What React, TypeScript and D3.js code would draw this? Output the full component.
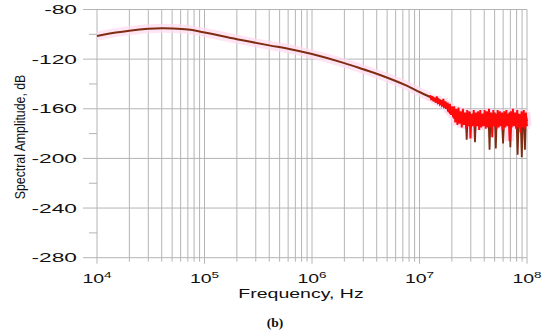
import React from "react";
import * as d3 from "d3";

// smooth part of the spectrum, shared by both traces
const freqs = [1e4, 1.5e4, 2e4, 3e4, 4e4, 5e4, 7e4, 1e5, 2e5, 4e5, 6e5, 1e6, 2e6, 3e6, 4.3e6, 7.6e6, 1e7, 1.26e7];
const smoothDb = [-101.4, -98.6, -97.1, -95.6, -95.1, -95.3, -96.2, -98.5, -103.9, -108.9, -111.6, -115.9, -123.2, -128.2, -132.8, -141.4, -146.5, -150.5];

// noisy tail, samples spread evenly (in log f) between tailStart and tailEnd
const tailStart = 1.26e7;
const tailEnd = 1e8;
const redTail = [
  -149, -153, -150, -154, -151, -155, -150, -156, -152, -157, -153, -158, -152, -159, -154, -160, -155, -163, -156, -165, -158, -167,
  -158, -171, -160, -173, -159, -172, -162, -175, -160, -173, -163, -176, -161, -174, -162, -184, -164, -174, -161, -175, -163, -174,
  -162, -177, -161, -175, -164, -174, -161, -176, -162, -175, -160, -175, -163, -183, -161, -174, -164, -176, -161, -175, -162, -174,
  -163, -177, -162, -175, -161, -174, -164, -186, -162, -175, -160, -174, -163, -176, -161, -175, -164, -179, -162, -175, -161, -176,
  -163, -174,
];
const brownTail = [
  -150, -152, -151, -153, -152, -154, -153, -155, -153, -156, -154, -157, -155, -158, -156, -160, -157, -162, -158, -164, -160, -163,
  -162, -168, -164, -170, -163, -167, -165, -171, -163, -169, -166, -172, -164, -185, -165, -170, -163, -168, -166, -172, -164, -187,
  -165, -170, -163, -169, -166, -173, -164, -171, -165, -170, -163, -172, -166, -193, -164, -170, -165, -172, -163, -192, -166, -171,
  -164, -169, -165, -172, -188, -170, -164, -171, -166, -173, -163, -191, -165, -170, -164, -172, -166, -171, -197, -170, -165, -172,
  -199, -168, -164, -193, -166, -170,
];

const yTicks = [-80, -120, -160, -200, -240, -280];
const yMinor = [-100, -140, -180, -220, -260];
const decades = [4, 5, 6, 7, 8];

const W = 550;
const H = 336;
const left = 97;
const right = 527;
const top = 9.5;
const bottom = 257.7;

const font = "'Liberation Sans', Arial, sans-serif";

const spread = (vals: number[]) => {
  const lx = d3.scaleLinear().domain([0, vals.length - 1]).range([Math.log10(tailStart), Math.log10(tailEnd)]);
  return vals.map((v, i) => [Math.pow(10, lx(i)), v] as [number, number]);
};

const App = () => {
  const x = d3.scaleLog().domain([1e4, 1e8]).range([left, right]);
  const y = d3.scaleLinear().domain([-80, -280]).range([top, bottom]);

  const smooth = freqs.map((f, i) => [f, smoothDb[i]] as [number, number]);
  const line = d3
    .line<[number, number]>()
    .x(d => x(d[0]))
    .y(d => y(d[1]));
  const smoothLine = d3
    .line<[number, number]>()
    .x(d => x(d[0]))
    .y(d => y(d[1]))
    .curve(d3.curveCatmullRom);

  const brownPts = spread(brownTail);
  const redPts = spread(redTail);

  const minorX: number[] = [];
  for (let e = 4; e < 8; e++) for (let k = 2; k <= 9; k++) minorX.push(k * Math.pow(10, e));

  const grid = "#b4b4b4";

  return (
    <svg width={W} height={H} style={{ position: "absolute", left: 0, top: 0, background: "#fff" }}>
      {/* vertical grid */}
      {minorX.map(f => (
        <line key={"m" + f} x1={x(f)} x2={x(f)} y1={top} y2={bottom + 4} stroke={grid} strokeWidth={1} />
      ))}
      {decades.map(e => (
        <line key={"d" + e} x1={x(Math.pow(10, e))} x2={x(Math.pow(10, e))} y1={top} y2={bottom + 6} stroke={grid} strokeWidth={1} />
      ))}
      {/* horizontal grid */}
      {yTicks.map(t => (
        <line key={"y" + t} x1={left - 14} x2={right} y1={y(t)} y2={y(t)} stroke={grid} strokeWidth={1} />
      ))}
      {yMinor.map(t => (
        <line key={"ym" + t} x1={left - 8} x2={left} y1={y(t)} y2={y(t)} stroke={grid} strokeWidth={1} />
      ))}

      {/* pink halo behind the trace */}
      <path d={smoothLine(smooth) || ""} fill="none" stroke="#ffdcef" strokeWidth={9} opacity={0.75} />
      <path d={line(redPts) || ""} fill="none" stroke="#ffd3ec" strokeWidth={9} opacity={0.75} />

      {/* traces */}
      <path d={smoothLine(smooth) || ""} fill="none" stroke="#7e2c12" strokeWidth={2} />
      <path d={line(brownPts) || ""} fill="none" stroke="#7e2c12" strokeWidth={1.8} />
      <path d={line(redPts) || ""} fill="none" stroke="#ff0a0a" strokeWidth={1.9} />

      {/* y tick labels */}
      {yTicks.map(t => (
        <text
          key={"yl" + t}
          transform={`translate(77, ${y(t)}) scale(1.75, 1)`}
          textAnchor="end"
          dy="0.36em"
          fontFamily={font}
          fontSize={13}
          fill="#111"
        >
          {t}
        </text>
      ))}

      {/* x tick labels */}
      {decades.map(e => (
        <text
          key={"xl" + e}
          transform={`translate(${x(Math.pow(10, e))}, 283.3) scale(1.5, 1)`}
          textAnchor="middle"
          fontFamily={font}
          fontSize={13}
          fill="#111"
        >
          10
          <tspan fontSize={9} dy={-5}>
            {e}
          </tspan>
        </text>
      ))}

      <text
        transform="translate(301, 298) scale(1.5, 1)"
        textAnchor="middle"
        fontFamily={font}
        fontSize={13}
        fill="#111"
      >
        Frequency, Hz
      </text>

      <text
        transform="translate(25, 137) rotate(-90) scale(0.88, 1.1)"
        textAnchor="middle"
        fontFamily={font}
        fontSize={14}
        fill="#111"
      >
        Spectral Amplitude, dB
      </text>

      <text x={275} y={327} textAnchor="middle" fontFamily="'Liberation Serif', 'Times New Roman', serif" fontWeight="bold" fontSize={13.5} fill="#111">
        (b)
      </text>
    </svg>
  );
};

export default App;
